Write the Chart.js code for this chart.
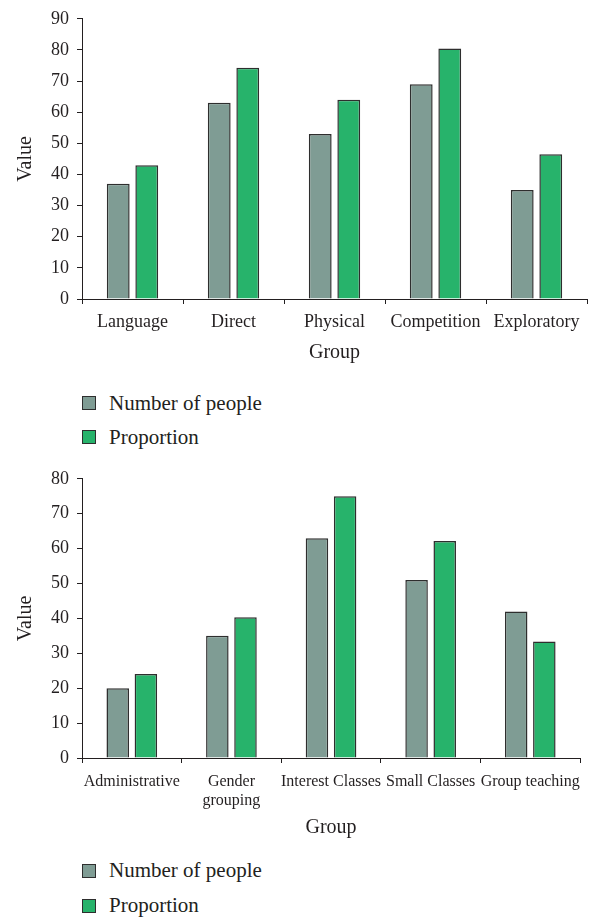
<!DOCTYPE html>
<html>
<head>
<meta charset="utf-8">
<script src="https://cdn.jsdelivr.net/npm/chart.js@4/dist/chart.umd.min.js"></script>
<style>
  html, body { margin: 0; padding: 0; background: #fff; }
  #wrap { position: relative; width: 589px; height: 917px; overflow: hidden; }
  canvas { position: absolute; left: 0; }
  .legend { position: absolute; left: 82px; font-family: "Liberation Serif", serif; font-size: 21px; color: #231f20; }
  .legend .item { display: flex; align-items: center; }
  .legend .swatch { width: 12px; height: 12px; box-sizing: content-box; margin-right: 13px; }
</style>
</head>
<body>
<div id="wrap">
  <canvas id="chartA" width="589" height="365" style="top:0px"></canvas>
  <div id="legendA" class="legend" style="top:386px"></div>
  <canvas id="chartB" width="589" height="380" style="top:460px"></canvas>
  <div id="legendB" class="legend" style="top:853px"></div>
</div>
<script>
// Teaching methods
const methodLabels = ["Language", "Direct", "Physical", "Competition", "Exploratory"];
const methodPeople = [37, 63, 53, 69, 35];
const methodProportion = [43.0, 74.3, 64.0, 80.5, 46.5];
const methodTicks = { min: 0, max: 90, step: 10 };

// Class organisation forms
const formLabels = ["Administrative", ["Gender", "grouping"], "Interest Classes", "Small Classes", "Group teaching"];
const formPeople = [20, 35, 63, 51, 42];
const formProportion = [24.1, 40.3, 75.0, 62.2, 33.4];
const formTicks = { min: 0, max: 80, step: 10 };

const seriesNames = ["Number of people", "Proportion"];
const seriesColors = ["#7f9c94", "#27b36b"];

const INK = "#231f20";
const SERIF = "'Liberation Serif', 'Times New Roman', serif";

// Builds the legend as HTML rows from the chart's own legend items
const htmlLegend = {
  id: "htmlLegend",
  afterUpdate(chart, args, opts) {
    const box = document.getElementById(opts.containerID);
    if (!box) return;
    box.innerHTML = "";
    const items = chart.options.plugins.legend.labels.generateLabels(chart);
    items.forEach(item => {
      const row = document.createElement("div");
      row.className = "item";
      row.style.height = opts.rowHeight + "px";
      const sw = document.createElement("span");
      sw.className = "swatch";
      sw.style.background = item.fillStyle;
      sw.style.border = "1.5px solid " + item.strokeStyle;
      const txt = document.createElement("span");
      txt.textContent = item.text;
      row.appendChild(sw);
      row.appendChild(txt);
      box.appendChild(row);
    });
  }
};

function makeChart(canvasId, legendId, rowHeight, labels, people, proportion, ticks, xFontSize, xPad, xHeight, topPad) {
  return new Chart(document.getElementById(canvasId), {
    type: "bar",
    data: {
      labels: labels,
      datasets: [
        { label: seriesNames[0], data: people, backgroundColor: seriesColors[0], borderColor: "#2e2e2e", borderWidth: 1.5 },
        { label: seriesNames[1], data: proportion, backgroundColor: seriesColors[1], borderColor: "#2e2e2e", borderWidth: 1.5 }
      ]
    },
    options: {
      responsive: false,
      animation: false,
      layout: { padding: { top: topPad, right: 2, left: 0, bottom: 0 } },
      datasets: { bar: { categoryPercentage: 0.565, barPercentage: 0.8 } },
      plugins: {
        legend: { display: false },
        tooltip: { enabled: false },
        htmlLegend: { containerID: legendId, rowHeight: rowHeight }
      },
      scales: {
        x: {
          offset: true,
          grid: { offset: true, drawOnChartArea: false, drawTicks: true, tickLength: 5, color: INK },
          border: { display: true, color: INK, width: 1 },
          ticks: { color: INK, font: { family: SERIF, size: xFontSize }, padding: xPad, autoSkip: false, maxRotation: 0, minRotation: 0 },
          title: { display: true, text: "Group", color: INK, font: { family: SERIF, size: 20, lineHeight: 1.2 }, padding: 0 },
          afterFit(scale) { scale.height = xHeight; }
        },
        y: {
          min: ticks.min,
          max: ticks.max,
          grid: { drawOnChartArea: false, drawTicks: true, tickLength: 5, color: INK },
          border: { display: true, color: INK, width: 1 },
          ticks: { stepSize: ticks.step, color: INK, font: { family: SERIF, size: 18 }, padding: 8 },
          title: { display: true, text: "Value", color: INK, font: { family: SERIF, size: 20, lineHeight: 1.2 }, padding: { top: 14, bottom: 0 } },
          afterFit(scale) { scale.width = 82; }
        }
      }
    },
    plugins: [htmlLegend]
  });
}

makeChart("chartA", "legendA", 34, methodLabels, methodPeople, methodProportion, methodTicks, 18, 7, 66, 16);
makeChart("chartB", "legendB", 35, formLabels, formPeople, formProportion, formTicks, 16, 9, 82, 15);
</script>
</body>
</html>
